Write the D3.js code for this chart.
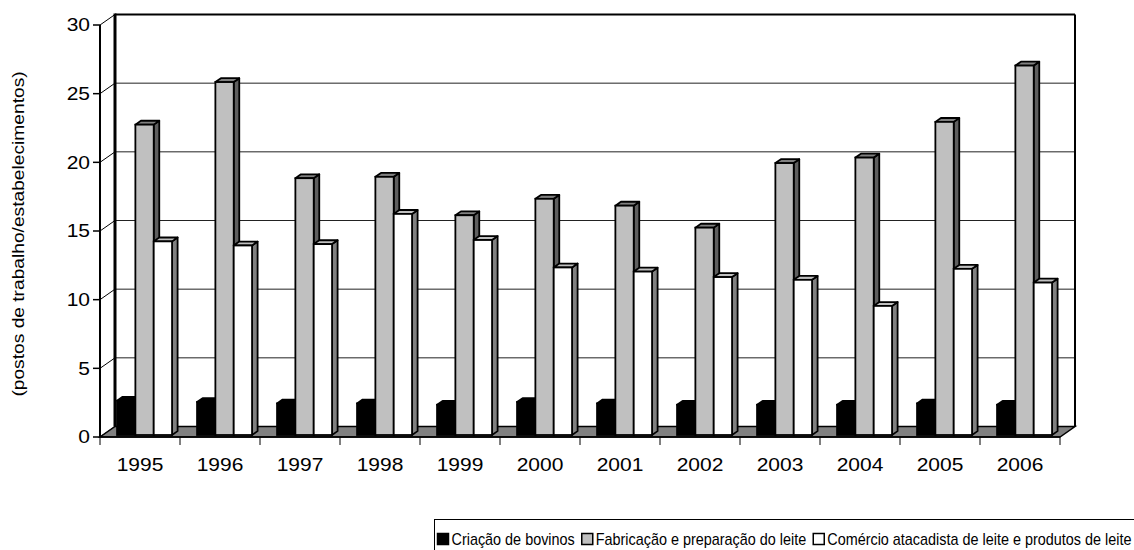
<!DOCTYPE html>
<html>
<head>
<meta charset="utf-8">
<script src="https://cdn.jsdelivr.net/npm/d3@7"></script>
<style>
  html, body { margin: 0; padding: 0; background: #fff; }
  svg { display: block; }
  text { font-family: Arial, "Liberation Sans", sans-serif; fill: #000; }
</style>
</head>
<body>
<svg id="chart" width="1134" height="550"></svg>
<script>
// ---- data ----
const years = ["1995","1996","1997","1998","1999","2000","2001","2002","2003","2004","2005","2006"];
const seriesNames = ["Criação de bovinos", "Fabricação e preparação do leite", "Comércio atacadista de leite e produtos de leite"];
const criacao   = [2.5, 2.4, 2.3, 2.3, 2.2, 2.4, 2.3, 2.2, 2.2, 2.2, 2.3, 2.2];
const fabricacao = [22.6, 25.7, 18.7, 18.8, 16.0, 17.2, 16.7, 15.1, 19.8, 20.2, 22.8, 26.9];
const comercio  = [14.1, 13.8, 13.9, 16.1, 14.2, 12.2, 11.9, 11.5, 11.3, 9.4, 12.1, 11.1];
const yTicks = [0, 5, 10, 15, 20, 25, 30];
const yTitle = "(postos de trabalho/estabelecimentos)";

// ---- styles ----
const faceColors = [
  {front: "#000000", side: "#000000", top: "#000000"},
  {front: "#c0c0c0", side: "#5f5f5f", top: "#808080"},
  {front: "#ffffff", side: "#808080", top: "#c0c0c0"}
];

const svg = d3.select("#chart");
const DX = 15, DY = -10.5;           // full depth offset of floor
const x0 = d3.scaleBand().domain(years).range([100, 1060]).paddingInner(0).paddingOuter(0);
const y = d3.scaleLinear().domain([0, 30]).range([437, 25]);
const x1 = d3.scaleBand().domain(d3.range(3)).range([14.2, 69.2]).padding(0);

const barFront = 0.19, barDepth = 0.37;
const bdx = DX * barDepth, bdy = DY * barDepth;

const g = svg.append("g");

// back wall
const backY = v => y(v) + DY;
g.append("rect").attr("x", 100 + DX).attr("y", backY(30)).attr("width", 960).attr("height", backY(0) - backY(30))
  .attr("fill", "#fff");
// gridlines
g.selectAll(".grid").data(yTicks.filter(t => t > 0 && t < 30)).enter().append("line")
  .attr("x1", 100 + DX).attr("x2", 1060 + DX)
  .attr("y1", d => backY(d)).attr("y2", d => backY(d))
  .attr("stroke", "#222").attr("stroke-width", 1);
// left wall diagonals
g.selectAll(".diag").data(yTicks).enter().append("line")
  .attr("x1", 100).attr("y1", d => y(d)).attr("x2", 100 + DX).attr("y2", d => backY(d))
  .attr("stroke", "#000").attr("stroke-width", 1);
// back wall border
g.append("line").attr("x1", 100 + DX).attr("x2", 1060 + DX).attr("y1", backY(30)).attr("y2", backY(30))
  .attr("stroke", "#000").attr("stroke-width", 2);
g.append("line").attr("x1", 1060 + DX).attr("x2", 1060 + DX).attr("y1", backY(30)).attr("y2", backY(0))
  .attr("stroke", "#000").attr("stroke-width", 2);
g.append("line").attr("x1", 100 + DX).attr("x2", 100 + DX).attr("y1", backY(30) - 1).attr("y2", backY(0))
  .attr("stroke", "#000").attr("stroke-width", 3);

// floor
g.append("path")
  .attr("d", `M100,${y(0)} L1060,${y(0)} L${1060 + DX},${backY(0)} L${100 + DX},${backY(0)} Z`)
  .attr("fill", "#808080").attr("stroke", "#000").attr("stroke-width", 1.5);

// front vertical axis
g.append("line").attr("x1", 100).attr("x2", 100).attr("y1", y(30)).attr("y2", y(0))
  .attr("stroke", "#000").attr("stroke-width", 2);
g.selectAll(".ytick").data(yTicks).enter().append("line")
  .attr("x1", 93).attr("x2", 100).attr("y1", d => y(d)).attr("y2", d => y(d))
  .attr("stroke", "#000").attr("stroke-width", 1.5);
g.selectAll(".ylab").data(yTicks).enter().append("text")
  .attr("transform", d => `translate(90,${y(d)}) scale(1.2,1)`)
  .attr("text-anchor", "end").attr("dy", "0.36em")
  .style("font-size", "17.5px").text(d => d);

// x axis
g.append("line").attr("x1", 100).attr("x2", 1060).attr("y1", y(0)).attr("y2", y(0))
  .attr("stroke", "#000").attr("stroke-width", 1.5);
const bounds = years.map(yr => x0(yr)).concat([1060]);
g.selectAll(".xtick").data(bounds).enter().append("line")
  .attr("x1", d => d).attr("x2", d => d).attr("y1", y(0)).attr("y2", y(0) + 8)
  .attr("stroke", "#000").attr("stroke-width", 1);
g.selectAll(".xlab").data(years).enter().append("text")
  .attr("transform", d => `translate(${x0(d) + x0.bandwidth() / 2},471) scale(1.2,1)`)
  .attr("text-anchor", "middle")
  .style("font-size", "17.5px").text(d => d);

// bars
const seriesVals = [criacao, fabricacao, comercio];
const barData = [];
years.forEach((yr, i) => {
  seriesVals.forEach((vals, s) => barData.push({yr, s, v: vals[i]}));
});
const bars = g.selectAll(".bar").data(barData).enter().append("g");
bars.each(function(d) {
  const el = d3.select(this);
  const xl = x0(d.yr) + x1(d.s) + DX * barFront;
  const w = x1.bandwidth();
  const yb = y(0) + DY * barFront;
  const yt = y(d.v) + DY * barFront;
  const c = faceColors[d.s];
  const sw = 1.8;
  // side
  el.append("path")
    .attr("d", `M${xl + w},${yt} L${xl + w + bdx},${yt + bdy} L${xl + w + bdx},${yb + bdy} L${xl + w},${yb} Z`)
    .attr("fill", c.side).attr("stroke", "#000").attr("stroke-width", sw).attr("stroke-linejoin", "round");
  // top
  el.append("path")
    .attr("d", `M${xl},${yt} L${xl + bdx},${yt + bdy} L${xl + w + bdx},${yt + bdy} L${xl + w},${yt} Z`)
    .attr("fill", c.top).attr("stroke", "#000").attr("stroke-width", sw).attr("stroke-linejoin", "round");
  // front
  el.append("rect").attr("x", xl).attr("y", yt).attr("width", w).attr("height", yb - yt)
    .attr("fill", c.front).attr("stroke", "#000").attr("stroke-width", sw);
});

// y title
svg.append("text")
  .attr("transform", "translate(18,234) rotate(-90) scale(1.2,1)")
  .attr("text-anchor", "middle").attr("dy", "0.36em")
  .style("font-size", "16px").text(yTitle);

// legend
const leg = svg.append("g");
leg.append("rect").attr("x", 434.5).attr("y", 519.5).attr("width", 720).attr("height", 50)
  .attr("fill", "#fff").attr("stroke", "#000").attr("stroke-width", 1);
let lx = 437.5;
const legScale = 0.9;
seriesNames.forEach((name, s) => {
  leg.append("rect").attr("x", lx).attr("y", 533.5).attr("width", 11).attr("height", 11)
    .attr("fill", faceColors[s].front).attr("stroke", "#000").attr("stroke-width", 1.5);
  const t = leg.append("text")
    .attr("transform", `translate(${lx + 14},545) scale(${legScale},1)`)
    .style("font-size", "16px").text(name);
  lx += 14 + t.node().getComputedTextLength() * legScale + 7;
});
</script>
</body>
</html>
